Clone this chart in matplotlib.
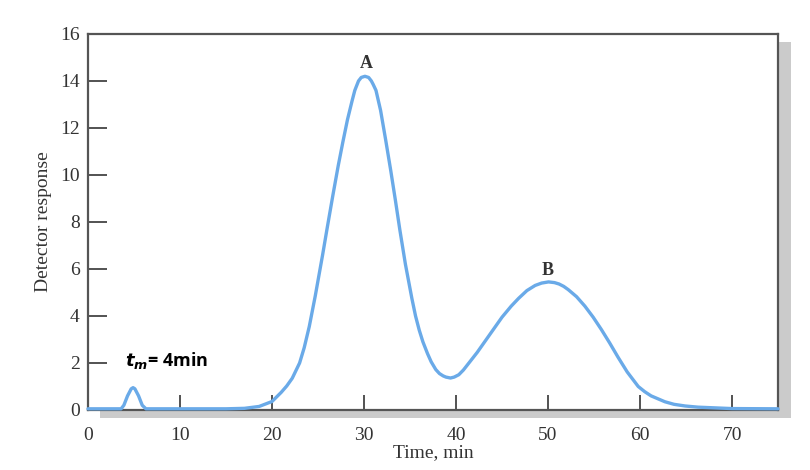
import matplotlib.pyplot as plt
import matplotlib.patheffects as pe

# Chromatogram points (time in min, detector response)
time_min = [0, 3.6, 3.9, 4.3, 4.7, 4.9, 5.1, 5.5, 5.9, 6.3, 10, 15, 17, 18.6, 20,
            21, 21.6, 22.2, 23, 23.5, 24.05, 24.7, 25.5, 26.0, 26.6, 27.2, 27.7,
            28.2, 28.7, 29.0, 29.4, 29.7, 30.1, 30.5, 30.8, 31.0, 31.3, 31.8,
            32.35, 32.9, 33.4, 33.9, 34.5, 35.2, 35.6, 36.0, 36.4, 36.9, 37.3,
            37.8, 38.2, 38.6, 38.9, 39.4, 39.8, 40.3, 40.8, 41.4, 41.9, 42.3,
            43.2, 44.1, 45.0, 46.0, 46.8, 47.7, 48.6, 49.3, 50.05, 50.7, 51.2,
            51.7, 52.2, 53.1, 54.0, 54.9, 55.8, 56.7, 57.6, 58.6, 59.8, 60.5,
            61.2, 62.7, 63.7, 64.9, 66.3, 70, 75]
response = [0.05, 0.05, 0.2, 0.6, 0.9, 0.95, 0.9, 0.6, 0.2, 0.05, 0.05, 0.05,
            0.07, 0.15, 0.36, 0.75, 1.02, 1.35, 2.0, 2.65, 3.55, 4.85, 6.6, 7.75,
            9.1, 10.4, 11.4, 12.35, 13.15, 13.6, 14.0, 14.15, 14.2, 14.15, 14.0,
            13.85, 13.6, 12.75, 11.5, 10.2, 8.95, 7.65, 6.2, 4.75, 4.0, 3.4, 2.9,
            2.4, 2.05, 1.72, 1.55, 1.45, 1.4, 1.36, 1.4, 1.5, 1.7, 2.0, 2.25,
            2.45, 2.95, 3.45, 3.95, 4.42, 4.75, 5.08, 5.3, 5.4, 5.45, 5.42, 5.36,
            5.26, 5.12, 4.82, 4.42, 3.95, 3.42, 2.85, 2.25, 1.62, 1.0, 0.78, 0.6,
            0.35, 0.24, 0.17, 0.12, 0.06, 0.05]

x_ticks = [0, 10, 20, 30, 40, 50, 60, 70]
y_ticks = [0, 2, 4, 6, 8, 10, 12, 14, 16]

peak_labels = ["A", "B"]
peak_pos = [(30.2, 14.55), (50.0, 5.75)]

serif = "Liberation Serif"
txt_col = "#333333"

fig = plt.figure(figsize=(8.1, 4.7), dpi=100)
ax = fig.add_axes([0.1086, 0.1277, 0.852, 0.80])

ax.patch.set_path_effects([
    pe.SimplePatchShadow(offset=(9, -6), shadow_rgbFace="#999999", alpha=0.5),
    pe.Normal(),
])

ax.plot(time_min, response, color="#6aaae8", lw=2.4, solid_capstyle="round",
        solid_joinstyle="round", clip_on=False, zorder=3)

ax.set_xlim(0, 75)
ax.set_ylim(0, 16)
ax.set_xticks(x_ticks)
ax.set_yticks(y_ticks)
ax.tick_params(direction="in", length=14, width=1.3, color="#444444",
               labelsize=14, labelcolor=txt_col, pad=6)
ax.tick_params(axis="x", length=11, pad=12)
for lab in ax.get_xticklabels() + ax.get_yticklabels():
    lab.set_fontfamily(serif)

for s in ax.spines.values():
    s.set_color("#555555")
    s.set_linewidth(1.6)

ax.set_xlabel("Time, min", fontfamily=serif, fontsize=14, color=txt_col, labelpad=0)
ax.set_ylabel("Detector response", fontfamily=serif, fontsize=14, color=txt_col, labelpad=6)

for lab, (px, py) in zip(peak_labels, peak_pos):
    ax.text(px, py, lab, fontfamily=serif, fontsize=13, fontweight="bold",
            color=txt_col, ha="center", va="baseline")

plt.rcParams["mathtext.fontset"] = "dejavusans"
ax.text(4.0, 2.1, r"$\mathbfit{t}_{\mathbfit{m}}$= 4min", fontfamily="Open Sans",
        fontsize=13, fontweight="bold", color="black", ha="left", va="center")

fig.savefig("out.png", dpi=100)
